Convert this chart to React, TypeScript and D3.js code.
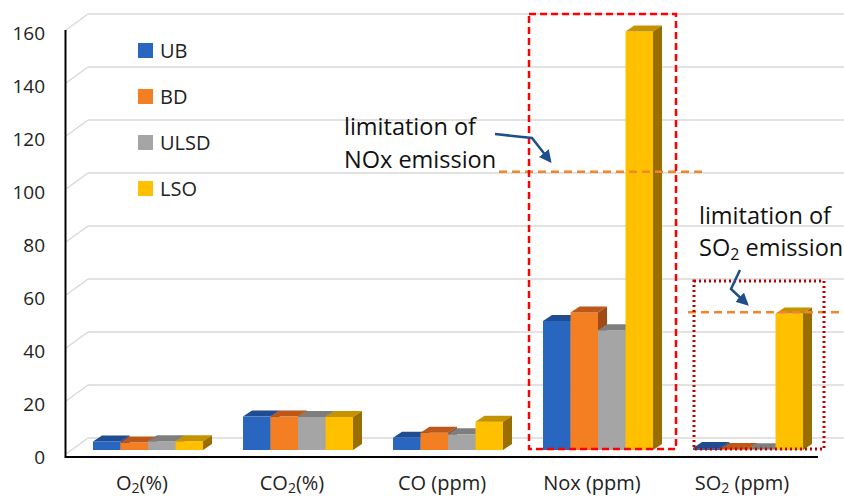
import React from 'react'
import * as d3 from 'd3'

// categories and series
const categories = ['O2', 'CO2', 'CO', 'Nox', 'SO2']
const categoryLabels = [
  ['O', '2', '(%)'],
  ['CO', '2', '(%)'],
  ['CO (ppm)', '', ''],
  ['Nox (ppm)', '', ''],
  ['SO', '2', ' (ppm)'],
]
const seriesNames = ['UB', 'BD', 'ULSD', 'LSO']
const UB = [3.2, 12.6, 4.6, 48.7, 0.8]
const BD = [2.8, 12.6, 6.5, 51.9, 0.4]
const ULSD = [3.3, 12.5, 5.9, 45.2, 0.3]
const LSO = [3.3, 12.5, 10.7, 157.9, 51.5]
const yTicks = [0, 20, 40, 60, 80, 100, 120, 140, 160]
const noxLimit = 105
const so2Limit = 52

const W = 844
const H = 496
const font = "'Open Sans', 'Liberation Sans', sans-serif"

const frontColor = ['#2966c0', '#f47f22', '#a5a5a5', '#ffc000']
const topColor = ['#1f4d93', '#bd581b', '#7e7e7e', '#c59300']
const sideColor = ['#1a4282', '#a14b16', '#6d6d6d', '#9a6d00']

const App = () => {
  const series = [UB, BD, ULSD, LSO]

  // front plane of the axis
  const y = d3.scaleLinear().domain([0, 160]).range([457, 33])
  // plane where bars stand (a bit deeper)
  const barDx = 6
  const barDy = -7
  const yBar = (v: number) => y(v) + barDy

  const x = d3.scaleBand().domain(categories).range([67, 817])
  const inner = d3.scaleBand().domain(seriesNames).range([-55, 55])

  const depthX = 9
  const depthY = -6

  const wallDx = 22
  const wallDy = -19

  const bars: any[] = []
  categories.forEach((c, ci) => {
    seriesNames.forEach((s, si) => {
      const v = series[si][ci]
      const x0 = x(c)! + x.bandwidth() / 2 + barDx + inner(s)!
      const x1 = x0 + inner.bandwidth()
      const yb = yBar(0)
      const yt = yBar(v)
      bars.push(
        <g key={c + s}>
          <rect x={x0} y={yt} width={x1 - x0} height={yb - yt} fill={frontColor[si]} />
          <path
            d={`M${x0},${yt} L${x0 + depthX},${yt + depthY} L${x1 + depthX},${yt + depthY} L${x1},${yt} Z`}
            fill={topColor[si]}
          />
          <path
            d={`M${x1},${yt} L${x1 + depthX},${yt + depthY} L${x1 + depthX},${yb + depthY} L${x1},${yb} Z`}
            fill={sideColor[si]}
          />
        </g>
      )
    })
  })

  const noxX = x('Nox')!
  const so2X = x('SO2')!

  return (
    <svg width={W} height={H} style={{ position: 'absolute', left: 0, top: 0, background: '#fff' }}>
      <defs>
        <marker id="arrow" viewBox="0 0 10 10" refX="8" refY="5" markerWidth="5" markerHeight="5" orient="auto">
          <path d="M0,0 L10,5 L0,10 Z" fill="#1f4e8c" />
        </marker>
      </defs>

      {/* gridlines on the back wall and floor diagonals */}
      <g stroke="#d9d9d9" strokeWidth={1.5} fill="none">
        {yTicks.map((t) => (
          <g key={t}>
            <line x1={66} y1={y(t) - 3} x2={66 + wallDx} y2={y(t) + wallDy} />
            <line x1={66 + wallDx} y1={y(t) + wallDy} x2={W} y2={y(t) + wallDy} />
          </g>
        ))}
      </g>

      {/* axes */}
      <line x1={65.5} y1={30} x2={65.5} y2={458} stroke="#000" strokeWidth={2} />
      <line x1={65} y1={457} x2={818} y2={457} stroke="#000" strokeWidth={2} />
      <g fontFamily={font} fontSize={19} fill="#222" textAnchor="end">
        {yTicks.map((t) => (
          <text key={t} x={45} y={y(t)} dy="0.35em">
            {t}
          </text>
        ))}
      </g>

      {bars}

      {/* x labels */}
      <g fontFamily={font} fontSize={20} fill="#222" textAnchor="middle">
        {categories.map((c, i) => (
          <text key={c} x={x(c)! + x.bandwidth() / 2} y={490}>
            {categoryLabels[i][0]}
            {categoryLabels[i][1] && (
              <tspan fontSize={14} dy={3}>
                {categoryLabels[i][1]}
              </tspan>
            )}
            {categoryLabels[i][1] && <tspan dy={-3}>{categoryLabels[i][2]}</tspan>}
          </text>
        ))}
      </g>

      {/* legend */}
      <g fontFamily={font} fontSize={20} fill="#222">
        {seriesNames.map((s, i) => (
          <g key={s} transform={`translate(138,${50 + i * 46})`}>
            <rect x={0} y={-7} width={15} height={15} fill={frontColor[i]} />
            <text x={22} y={1} dy="0.35em">
              {s}
            </text>
          </g>
        ))}
      </g>

      {/* NOx limit */}
      <line
        x1={499}
        x2={702}
        y1={yBar(noxLimit)}
        y2={yBar(noxLimit)}
        stroke="#f4862a"
        strokeWidth={2.5}
        strokeDasharray="8,5"
      />
      <rect
        x={noxX + 529 - x('Nox')!}
        y={14}
        width={147}
        height={435}
        fill="none"
        stroke="#ff0000"
        strokeWidth={2.5}
        strokeDasharray="7,4"
      />
      <g fontFamily={font} fontSize={23.5} fill="#111">
        <text x={344} y={127} dy="0.35em">limitation of</text>
        <text x={344} y={160} dy="0.35em">NOx emission</text>
      </g>
      <path
        d="M495,134 L532,138 L550,161"
        fill="none"
        stroke="#1f4e8c"
        strokeWidth={2.5}
        markerEnd="url(#arrow)"
      />

      {/* SO2 limit */}
      <line
        x1={688}
        x2={W}
        y1={yBar(so2Limit)}
        y2={yBar(so2Limit)}
        stroke="#f4862a"
        strokeWidth={2.5}
        strokeDasharray="8,5"
      />
      <rect
        x={so2X + 694 - x('SO2')!}
        y={281}
        width={130}
        height={168}
        fill="none"
        stroke="#c00000"
        strokeWidth={3}
        strokeDasharray="2,3"
      />
      <g fontFamily={font} fontSize={23.5} fill="#111">
        <text x={699} y={216} dy="0.35em">limitation of</text>
        <text x={699} y={248} dy="0.35em">
          SO<tspan fontSize={16} dy={4}>2</tspan>
          <tspan dy={-4}> emission</tspan>
        </text>
      </g>
      <path
        d="M740,270 L731,289 L747,304"
        fill="none"
        stroke="#1f4e8c"
        strokeWidth={2.5}
        markerEnd="url(#arrow)"
      />
    </svg>
  )
}

export default App
